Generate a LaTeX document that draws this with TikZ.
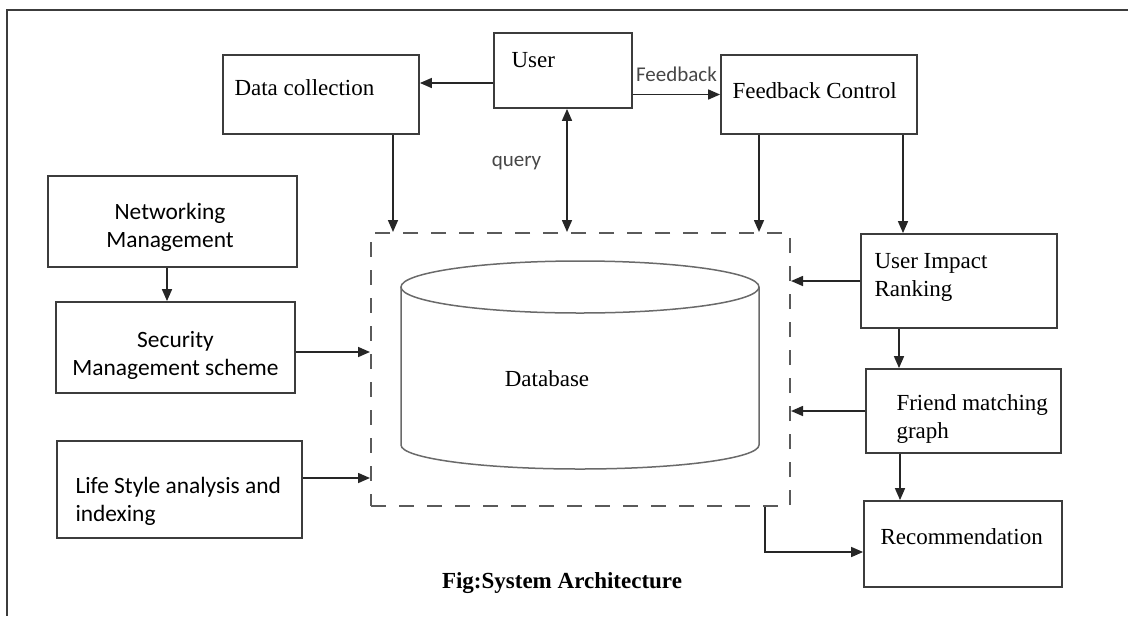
\documentclass[tikz,border=0pt]{standalone}
\usepackage{fontspec}
\setmainfont{Liberation Serif}
\newfontfamily\calibri{Carlito}
\usepackage{tikz}
\usetikzlibrary{arrows.meta}
\usetikzlibrary{positioning}
\definecolor{edgegray}{HTML}{3C3C3C}
\definecolor{dashgray}{HTML}{5A5A5A}
\definecolor{dbgray}{HTML}{6A6A6A}

\begin{document}
\begin{tikzpicture}[x=0.5pt, y=0.5pt,
                module/.style={draw=edgegray, line width=0.9pt, inner sep=0pt},
                serif/.style={inner sep=0pt, align=left, font=\fontsize{11.5}{14}\selectfont},
                sans/.style={inner sep=0pt, align=center, font=\calibri\fontsize{11.7}{14}\selectfont},
                lbl/.style={inner sep=0pt, text=black!72, font=\calibri\fontsize{10.5}{12}\selectfont},
                arrow/.style={-{Triangle[length=6pt, width=5pt]}, line width=0.8pt, draw=black!85},
                dblarrow/.style={arrow, {Triangle[length=6pt, width=5pt]}-{Triangle[length=6pt, width=5pt]}},
                dbshape/.style={draw=dbgray, line width=0.75pt},
            ]
            \useasboundingbox (0,0) rectangle (1128,-616);

            % outer frame
            \draw[edgegray, line width=1pt] (1128,-10) -- (7,-10) -- (7,-616);

            \node[module, minimum width=98pt, minimum height=39.5pt] (datacol) at (321,-94.5) {};
            \node[module, minimum width=69pt, minimum height=37.5pt] (user) at (563,-70.5) {};
            \node[module, minimum width=98pt, minimum height=39.5pt] (fbc) at (819,-94.5) {};
            \node[module, minimum width=124.5pt, minimum height=45.5pt] (netmgmt) at (172.5,-221.5) {};
            \node[module, minimum width=119.5pt, minimum height=45.5pt] (secmgmt) at (175.5,-347.5) {};
            \node[module, minimum width=122.5pt, minimum height=48.5pt] (lifestyle) at (179.5,-489.5) {};
            \node[module, minimum width=98pt, minimum height=47pt] (uir) at (959,-281) {};
            \node[module, minimum width=97.5pt, minimum height=42pt] (friend) at (963.5,-411) {};
            \node[module, minimum width=99pt, minimum height=43pt] (recom) at (963,-544) {};
            \node[draw=dashgray, line width=1pt, dash pattern=on 7.5pt off 6.5pt,
                  minimum width=209.5pt, minimum height=136.5pt, inner sep=0pt] (dbbox) at (580.5,-369.5) {};

            % database cylinder
            \draw[dbshape] (401,-287) -- (401,-445)
                arc[start angle=180, end angle=360, x radius=179, y radius=24] -- (759,-287);
            \draw[dbshape] (580,-287) ellipse [x radius=179, y radius=26];

            \node[serif, anchor=west] (datacol_t) at ([xshift=6pt, yshift=3.25pt]datacol.west) {Data collection};
            \node[serif, anchor=west] (user_t) at ([xshift=9pt, yshift=5.25pt]user.west) {User};
            \node[serif, anchor=west] (fbc_t) at ([xshift=6pt, yshift=1.75pt]fbc.west) {Feedback Control};
            \node[sans] (netmgmt_t) at ([xshift=-1.25pt, yshift=-3pt]netmgmt.center) {Networking\\Management};
            \node[sans] (secmgmt_t) at ([yshift=-3.75pt]secmgmt.center) {Security\\Management scheme};
            \node[sans, anchor=west, align=left] (lifestyle_t) at ([xshift=9.5pt, yshift=-5.75pt]lifestyle.west) {Life Style analysis and\\indexing};
            \node[serif, anchor=west] (uir_t) at ([xshift=7pt, yshift=1.75pt]uir.west) {User Impact\\Ranking};
            \node[serif, anchor=west] (friend_t) at ([xshift=15.5pt, yshift=-4pt]friend.west) {Friend matching\\graph};
            \node[serif, anchor=west] (recom_t) at ([xshift=8.5pt, yshift=3.5pt]recom.west) {Recommendation};
            \node[serif] (db_t) at (547,-379) {Database};
            \node[serif, font=\fontsize{11.5}{14}\selectfont\bfseries] (caption) at (562,-583) {Fig:System Architecture};

            \draw[arrow] ([yshift=-6.25pt]user.west) -- ([yshift=-6.25pt]user.west -| datacol.east);
            \draw[arrow] (user.east |- fbc.west) -- node[lbl, above=6pt] (fb_lbl) {Feedback} (fbc.west);
            \draw[dblarrow] ([xshift=2pt]user.south) -- node[lbl, pos=0.44, left=12.5pt] (query_lbl) {query}
                ([xshift=2pt]user.south |- dbbox.north);
            \draw[arrow] ([xshift=36pt]datacol.south) -- ([xshift=36pt]datacol.south |- dbbox.north);
            \draw[arrow] ([xshift=-30pt]fbc.south) -- ([xshift=-30pt]fbc.south |- dbbox.north);
            \draw[arrow] ([xshift=42pt]fbc.south) -- ([xshift=42pt]fbc.south |- uir.north);
            \draw[arrow] (uir.west) -- (uir.west -| dbbox.east);
            \draw[arrow] (friend.west) -- (friend.west -| dbbox.east);
            \draw[arrow] ([xshift=-30pt]uir.south) -- ([xshift=-30pt]uir.south |- friend.north);
            \draw[arrow] ([xshift=-31.75pt]friend.south) -- ([xshift=-31.75pt]friend.south |- recom.north);
            \draw[arrow] ([xshift=92.25pt]dbbox.south) |- ([yshift=-4pt]recom.west);
            \draw[arrow] ([xshift=-2.75pt]netmgmt.south) -- ([xshift=-2.75pt]netmgmt.south |- secmgmt.north);
            \draw[arrow] ([yshift=-2.25pt]secmgmt.east) -- ([yshift=-2.25pt]secmgmt.east -| dbbox.west);
            \draw[arrow] ([yshift=5.75pt]lifestyle.east) -- ([yshift=5.75pt]lifestyle.east -| dbbox.west);
        \end{tikzpicture}
\end{document}
